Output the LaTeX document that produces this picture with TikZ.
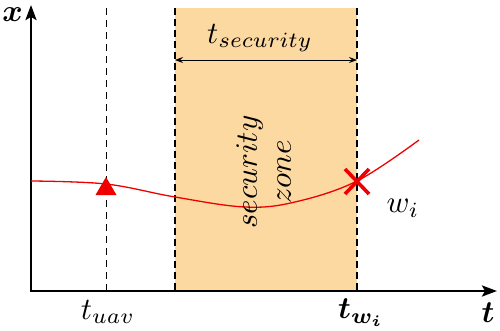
\RequirePackage{fix-cm}
\documentclass[tikz,border=0pt]{standalone}
\usepackage{bm}
\usepackage{graphicx}
\usetikzlibrary{arrows.meta}
\definecolor{zonefill}{RGB}{253,217,162}
\definecolor{trajred}{RGB}{238,0,0}
\newcommand{\biglbl}[1]{\scalebox{3.1}{#1}}
\begin{document}
\begin{tikzpicture}[x=1pt,y=-1pt,
  lbl/.style={font=\fontsize{10}{11}\selectfont, inner sep=0pt},
  axisline/.style={line width=2.6pt, -{Stealth[length=15pt,width=11pt,inset=3pt]}},
  zoneborder/.style={line width=1.7pt, dash pattern=on 7pt off 4pt},
  thindash/.style={line width=0.9pt, dash pattern=on 7pt off 5pt},
  spanarrow/.style={line width=0.8pt, {Stealth[length=8pt,width=6pt,inset=3pt]}-{Stealth[length=8pt,width=6pt,inset=3pt]}},
  traj/.style={trajred, line width=1.3pt}]
\useasboundingbox (0,0) rectangle (500,330);
% security zone
\fill[zonefill] (175,8) rectangle (357,291);
\coordinate (zlt) at (175,8);
\coordinate (zlb) at (175,291);
\coordinate (zrt) at (357,8);
\coordinate (zrb) at (357,291);
\draw[zoneborder] (zlt) -- (zlb);
\draw[zoneborder] (zrt) -- (zrb);
% uav time
\coordinate (ut) at (106,8);
\coordinate (ub) at (106,291);
\draw[thindash] (ut) -- (ub);
% axes
\coordinate (O) at (31,291);
\coordinate (ytip) at (31,5);
\coordinate (xtip) at (497,291);
\draw[axisline] (O) -- (ytip);
\draw[axisline] ([xshift=-1.3pt]O) -- (xtip);
% span arrow
\coordinate (sl) at (175,60);
\coordinate (sr) at (357,60);
\draw[spanarrow] (sl) -- (sr);
% trajectory
\draw[traj] plot[smooth, tension=0.6] coordinates {(31,181) (106,184) (175,197) (245,207) (295,202) (357,181) (419,140)};
% uav marker
\fill[trajred] (95.5,195) -- (116.5,195) -- (106,177) -- cycle;
% waypoint cross
\draw[trajred, line width=3.6pt] (345,169) -- (369,194) (345,194) -- (369,169);
% labels
\node[lbl] (xl) at (12.5,15) {\biglbl{$\bm{x}$}};
\node[lbl] (tl) at (488,313) {\biglbl{$\bm{t}$}};
\node[lbl] (tuav) at (108,312) {\biglbl{$t_{uav}$}};
\node[lbl] (twi) at (361,313) {\biglbl{$\bm{t_{w_i}}$}};
\node[lbl] (wi) at (403,208) {\biglbl{$w_i$}};
\node[lbl] (tsec) at (260,38) {\biglbl{$t_{security}$}};
\node[lbl, rotate=90] (sz) at (267,172) {\biglbl{\begin{tabular}{@{}c@{}}$security$\\$zone$\end{tabular}}};
\end{tikzpicture}
\end{document}
